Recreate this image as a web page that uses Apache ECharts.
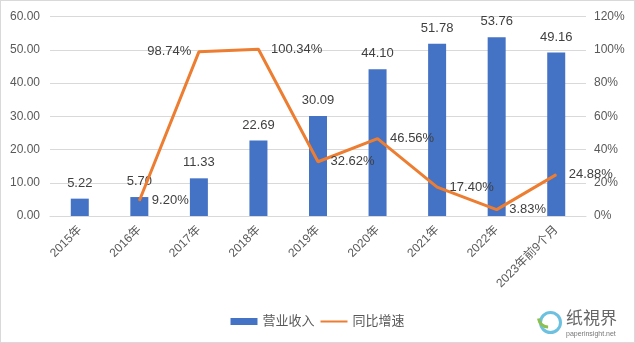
<!DOCTYPE html>
<html>
<head>
<meta charset="utf-8">
<script src="https://cdn.jsdelivr.net/npm/echarts@6/dist/echarts.min.js"></script>
<style>
html,body{margin:0;padding:0;background:#fff;}
#c{width:633px;height:341px;border:1px solid #d9d9d9;}
</style>
</head>
<body>
<div id="c"></div>
<script>
const categories = ['2015年','2016年','2017年','2018年','2019年','2020年','2021年','2022年','2023年前9个月'];
const revenue = [5.22, 5.70, 11.33, 22.69, 30.09, 44.10, 51.78, 53.76, 49.16];
const growth = [null, 9.20, 98.74, 100.34, 32.62, 46.56, 17.40, 3.83, 24.88];
const growthLabelPos = ['right','right','left','right','right','right','right','right','right'];
const leftTicks = [0, 10, 20, 30, 40, 50, 60];
const rightTicks = [0, 20, 40, 60, 80, 100, 120];

const FONT = '"Liberation Sans", "Noto Sans CJK SC", sans-serif';
const chart = echarts.init(document.getElementById('c'), null, {renderer:'canvas'});
chart.setOption({
  animation:false,
  textStyle:{fontFamily:FONT},
  grid:{left:49, right:48, top:15.5, bottom:126},
  legend:{
    bottom:9, left:'center',
    itemWidth:27, itemHeight:7, itemGap:5,
    textStyle:{fontSize:13, color:'#595959', fontFamily:FONT},
    data:[{name:'营业收入', icon:'rect'}, {name:'同比增速', itemStyle:{opacity:0}}]
  },
  xAxis:{
    type:'category', data:categories,
    axisLine:{lineStyle:{color:'#d9d9d9'}},
    axisTick:{show:false},
    axisLabel:{rotate:45, interval:0, fontSize:12, color:'#595959', margin:12, fontFamily:FONT}
  },
  yAxis:[{
    type:'value', min:leftTicks[0], max:leftTicks[leftTicks.length-1], interval:leftTicks[1]-leftTicks[0],
    axisLine:{show:false}, axisTick:{show:false},
    splitLine:{lineStyle:{color:'#d9d9d9'}},
    axisLabel:{fontSize:12, color:'#595959', margin:10, formatter:v=>v.toFixed(2), fontFamily:FONT}
  },{
    type:'value', min:rightTicks[0], max:rightTicks[rightTicks.length-1], interval:rightTicks[1]-rightTicks[0],
    axisLine:{show:false}, axisTick:{show:false}, splitLine:{show:false},
    axisLabel:{fontSize:12, color:'#595959', margin:8, formatter:'{value}%', fontFamily:FONT}
  }],
  series:[{
    name:'营业收入', type:'bar', data:revenue, barWidth:18,
    itemStyle:{color:'#4472C4'},
    label:{show:true, position:'top', distance:9, fontSize:13, color:'#404040', formatter:p=>p.value.toFixed(2), fontFamily:FONT}
  },{
    name:'同比增速', type:'line', yAxisIndex:1,
    data:growth.map((v,i)=>({value:v, label:{position:growthLabelPos[i], distance: growthLabelPos[i]==='left'?7:12}})),
    symbol:'circle', symbolSize:1, showSymbol:true,
    lineStyle:{color:'#ED7D31', width:3},
    itemStyle:{color:'#ED7D31'},
    label:{show:true, fontSize:13, color:'#404040', formatter:p=>p.value==null?'':p.value.toFixed(2)+'%', fontFamily:FONT}
  }],
  graphic:[
    {type:'circle', left:537, top:309, shape:{r:10}, style:{fill:'none', stroke:'#6cc0e0', lineWidth:3}},
    {type:'arc', left:535, top:315, shape:{r:10, startAngle:1.6, endAngle:3.0}, style:{fill:'none', stroke:'#8cc152', lineWidth:3}},
    {type:'text', left:565, top:308, style:{text:'纸視界', fontSize:17, fill:'#666', fontFamily:'"Noto Sans CJK SC", sans-serif'}},
    {type:'text', left:565, top:330, style:{text:'paperinsight.net', fontSize:7, fill:'#777', fontFamily:FONT}}
  ]
});
</script>
</body>
</html>
